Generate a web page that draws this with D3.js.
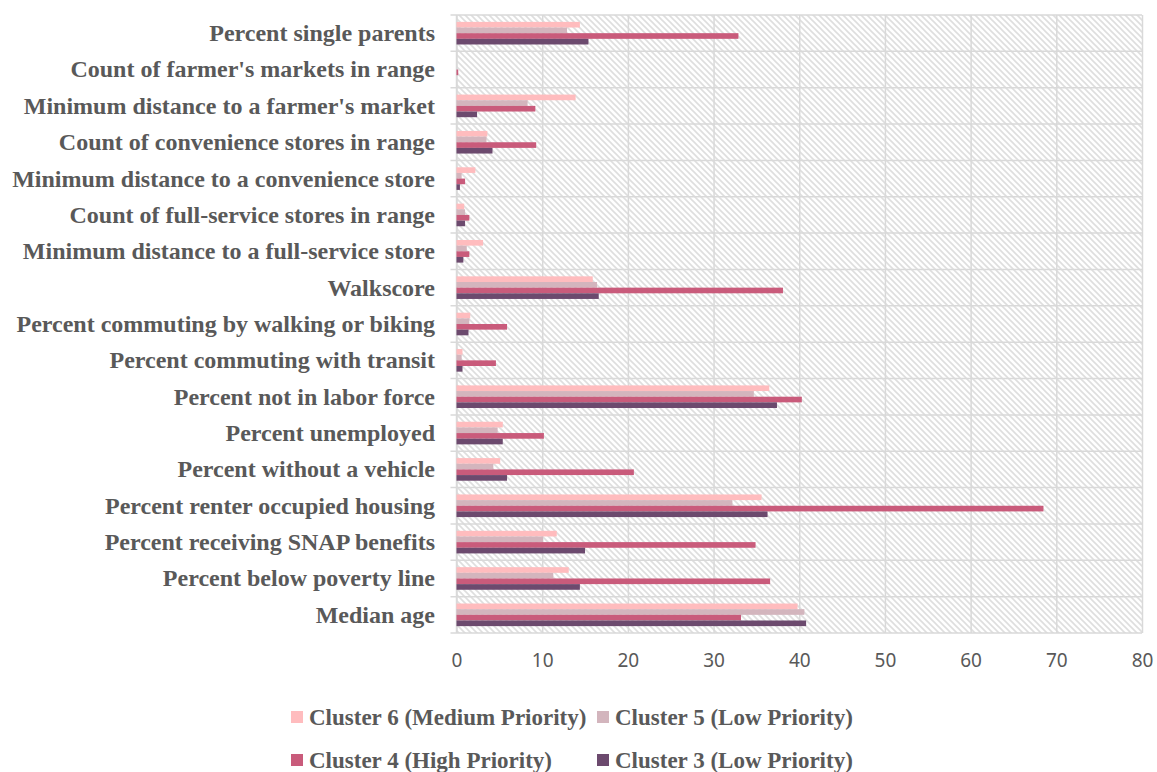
<!DOCTYPE html>
<html>
<head>
<meta charset="utf-8">
<script src="https://cdn.jsdelivr.net/npm/d3@7"></script>
<style>
  html, body { margin: 0; padding: 0; background: #ffffff; }
  svg { display: block; }
</style>
</head>
<body>
<svg id="chart" width="1157" height="772"></svg>
<script>
// Indicators, listed top to bottom
const categories = [
  "Percent single parents",
  "Count of farmer's markets in range",
  "Minimum distance to a farmer's market",
  "Count of convenience stores in range",
  "Minimum distance to a convenience store",
  "Count of full-service stores in range",
  "Minimum distance to a full-service store",
  "Walkscore",
  "Percent commuting by walking or biking",
  "Percent commuting with transit",
  "Percent not in labor force",
  "Percent unemployed",
  "Percent without a vehicle",
  "Percent renter occupied housing",
  "Percent receiving SNAP benefits",
  "Percent below poverty line",
  "Median age"
];

const seriesNames = [
  "Cluster 6 (Medium Priority)",
  "Cluster 5 (Low Priority)",
  "Cluster 4 (High Priority)",
  "Cluster 3 (Low Priority)"
];

const cluster6 = [14.4, 0, 13.9, 3.6, 2.2, 0.9, 3.1, 15.9, 1.6, 0.7, 36.5, 5.4, 5.1, 35.6, 11.7, 13.1, 39.8];
const cluster5 = [12.9, 0, 8.3, 3.5, 0.6, 1.0, 1.2, 16.4, 1.5, 0.6, 34.7, 4.8, 4.3, 32.2, 10.1, 11.3, 40.6];
const cluster4 = [32.9, 0.2, 9.2, 9.3, 1.0, 1.5, 1.5, 38.1, 5.9, 4.6, 40.3, 10.2, 20.7, 68.5, 34.9, 36.6, 33.2];
const cluster3 = [15.4, 0, 2.4, 4.2, 0.4, 1.0, 0.8, 16.6, 1.4, 0.7, 37.4, 5.4, 5.9, 36.3, 15.0, 14.4, 40.8];

const xTicks = [0, 10, 20, 30, 40, 50, 60, 70, 80];

const seriesValues = [cluster6, cluster5, cluster4, cluster3];
const colors = ["#ffbcbe", "#d3b5bd", "#c95b7b", "#6c4a6e"];

const svg = d3.select("#chart");
const plotLeft = 456.5, plotRight = 1142, plotTop = 15, plotBottom = 633;

const x = d3.scaleLinear().domain([0, 80]).range([plotLeft, plotRight]);
const y = d3.scaleBand().domain(categories).range([plotTop, plotBottom]).paddingInner(0).paddingOuter(0);
const bw = y.bandwidth();
const groupH = bw * 0.622;
const y1 = d3.scaleBand().domain(seriesNames)
  .range([(bw - groupH) / 2, (bw + groupH) / 2]).padding(0);

// Hatched plot background
const defs = svg.append("defs");
const pat = defs.append("pattern")
  .attr("id", "hatch")
  .attr("patternUnits", "userSpaceOnUse")
  .attr("width", 6).attr("height", 6);
pat.append("rect").attr("width", 6).attr("height", 6).attr("fill", "#ffffff");
pat.append("path")
  .attr("d", "M-1,-1 L7,7 M-4,2 L2,8 M2,-4 L8,2")
  .attr("stroke", "#dedede").attr("stroke-width", 1.6);

svg.append("rect")
  .attr("x", plotLeft).attr("y", plotTop)
  .attr("width", plotRight - plotLeft).attr("height", plotBottom - plotTop)
  .attr("fill", "url(#hatch)");

// Vertical gridlines
svg.append("g")
  .attr("transform", `translate(0,${plotTop})`)
  .call(d3.axisBottom(x).tickValues(xTicks).tickSize(plotBottom - plotTop).tickFormat(""))
  .call(g => g.select(".domain").remove())
  .call(g => g.selectAll("line").attr("stroke", "#d9d9d9").attr("stroke-width", 1.5));

// Horizontal gridlines at category boundaries
const bounds = categories.map(c => y(c)).concat([plotBottom]);
svg.append("g").selectAll("line")
  .data(bounds)
  .join("line")
  .attr("x1", plotLeft - 6).attr("x2", plotRight)
  .attr("y1", d => d).attr("y2", d => d)
  .attr("stroke", "#d9d9d9").attr("stroke-width", 1.5);

// Left axis line
svg.append("line")
  .attr("x1", plotLeft).attr("x2", plotLeft)
  .attr("y1", plotTop).attr("y2", plotBottom)
  .attr("stroke", "#d9d9d9").attr("stroke-width", 1.5);

// Bars
const rows = [];
categories.forEach((c, i) => {
  seriesNames.forEach((s, j) => {
    rows.push({ cat: c, series: s, value: seriesValues[j][i], color: colors[j] });
  });
});

svg.append("g").selectAll("rect")
  .data(rows)
  .join("rect")
  .attr("x", x(0))
  .attr("y", d => y(d.cat) + y1(d.series))
  .attr("width", d => Math.max(0, x(d.value) - x(0)))
  .attr("height", y1.bandwidth())
  .attr("fill", d => d.color);

// Category labels
svg.append("g").selectAll("text")
  .data(categories)
  .join("text")
  .attr("x", 435)
  .attr("y", d => y(d) + bw / 2)
  .attr("dy", "0.33em")
  .attr("text-anchor", "end")
  .attr("font-family", "'Liberation Serif', 'Times New Roman', serif")
  .attr("font-weight", "bold")
  .attr("font-size", 24)
  .attr("fill", "#595959")
  .text(d => d);

// X tick labels
svg.append("g")
  .attr("transform", `translate(0,${plotBottom})`)
  .call(d3.axisBottom(x).tickValues(xTicks).tickSize(0).tickPadding(21).tickFormat(d3.format("d")))
  .call(g => g.select(".domain").remove())
  .call(g => g.selectAll("text")
    .attr("font-family", "'Noto Sans', 'Open Sans', sans-serif")
    .attr("font-size", 19)
    .attr("fill", "#595959"));

// Legend
const legendPos = [
  { x: 291, y: 717 }, { x: 597, y: 717 },
  { x: 291, y: 760 }, { x: 597, y: 760 }
];
const legend = svg.append("g").selectAll("g")
  .data(seriesNames)
  .join("g")
  .attr("transform", (d, i) => `translate(${legendPos[i].x},${legendPos[i].y})`);
legend.append("rect")
  .attr("x", 0).attr("y", -6)
  .attr("width", 12).attr("height", 12)
  .attr("fill", (d, i) => colors[i]);
legend.append("text")
  .attr("x", 18).attr("y", 0)
  .attr("dy", "0.33em")
  .attr("font-family", "'Liberation Serif', 'Times New Roman', serif")
  .attr("font-weight", "bold")
  .attr("font-size", 23)
  .attr("fill", "#595959")
  .text(d => d);
</script>
</body>
</html>
